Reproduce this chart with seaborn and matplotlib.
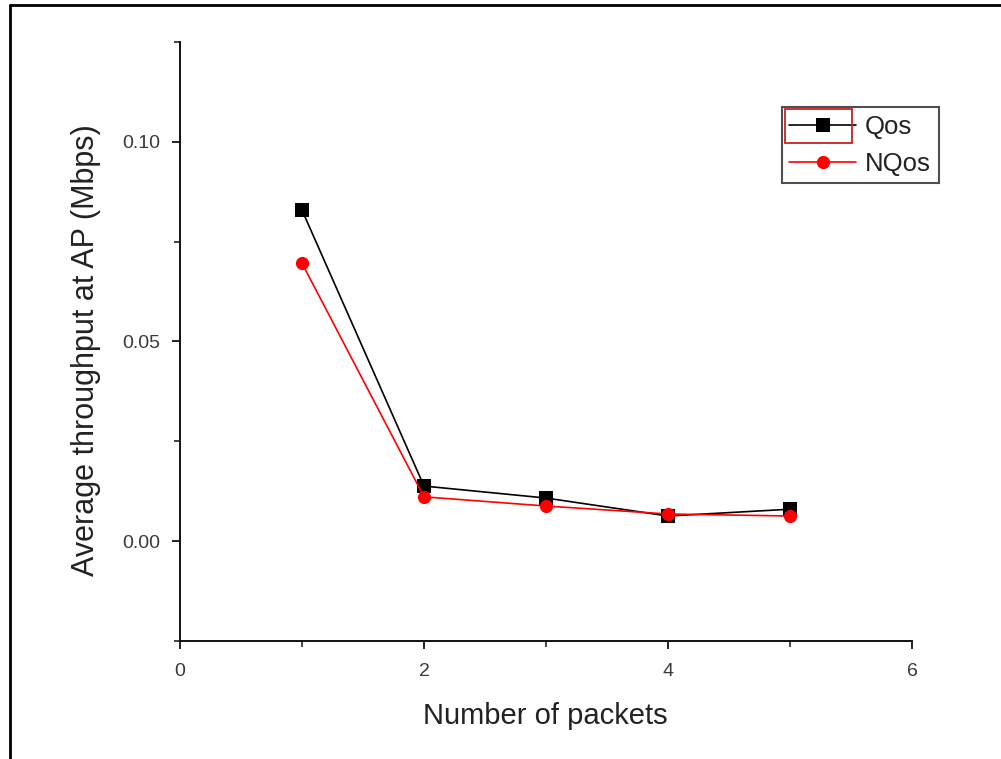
import pandas as pd
import matplotlib
matplotlib.use("Agg")
import matplotlib.pyplot as plt
from matplotlib.ticker import MultipleLocator
from matplotlib.lines import Line2D
from matplotlib.patches import Rectangle
import seaborn as sns

# values
packets = [1, 2, 3, 4, 5]
qos = [0.0829, 0.0138, 0.0108, 0.0063, 0.0080]
nqos = [0.0696, 0.0111, 0.0088, 0.0068, 0.0063]
series_names = ["Qos", "NQos"]

df = pd.concat([
    pd.DataFrame({"packets": packets, "value": qos, "series": "Qos"}),
    pd.DataFrame({"packets": packets, "value": nqos, "series": "NQos"}),
])

sns.set_theme(style="ticks")
plt.rcParams['font.family'] = ['Liberation Sans', 'DejaVu Sans']

W, H = 1001, 759
fig = plt.figure(figsize=(W / 100, H / 100), dpi=100)
ax = fig.add_axes([180 / W, 118 / H, 732 / W, 599 / H])

sns.lineplot(data=df, x="packets", y="value", hue="series", style="series",
             hue_order=series_names, style_order=series_names,
             palette={"Qos": "black", "NQos": "red"},
             markers={"Qos": "s", "NQos": "o"}, dashes=False,
             markersize=9.5, markeredgewidth=0, linewidth=1.2, ax=ax)

ax.set_xlim(0, 6)
ax.set_ylim(-0.025, 0.125)
ax.xaxis.set_major_locator(MultipleLocator(2))
ax.xaxis.set_minor_locator(MultipleLocator(1))
ax.yaxis.set_minor_locator(MultipleLocator(0.025))
ax.set_yticks([0.0, 0.05, 0.10])
ax.set_yticklabels(["0.00", "0.05", "0.10"])

for side in ["top", "right"]:
    ax.spines[side].set_visible(False)
for side in ["left", "bottom"]:
    ax.spines[side].set_linewidth(1.4)
    ax.spines[side].set_color("#111111")

ax.tick_params(which="major", direction="out", length=6, width=1.3, color="#111111",
               labelsize=14, labelcolor="#3a3a3a")
ax.tick_params(which="minor", direction="out", length=4, width=1.1, color="#111111")
ax.tick_params(axis="x", pad=10)
ax.tick_params(axis="y", pad=8)

ax.set_xlabel("Number of packets", fontsize=21, color="#222222")
ax.set_ylabel("Average throughput at AP (Mbps)", fontsize=22, color="#222222")
ax.xaxis.set_label_coords(0.4986, -0.102)
ax.yaxis.set_label_coords(-0.108, 0.486)

leg = ax.legend(loc="upper left", bbox_to_anchor=(0.822, 0.8915), fontsize=18.5,
                frameon=True, fancybox=False, edgecolor="#222222",
                handlelength=2.6, handletextpad=0.35, borderpad=0.3,
                labelspacing=0.5, borderaxespad=0)
leg.get_frame().set_linewidth(1.5)
for t in leg.get_texts():
    t.set_color("#222222")

# selection box around the first legend sample, as in the original
fig.add_artist(Rectangle((785 / W, 1 - 143 / H), 67 / W, 34 / H, transform=fig.transFigure,
                         fill=False, edgecolor="#cc2020", linewidth=1.3))

# outer frame, left and top edges only
fig.add_artist(Line2D([10 / W, 10 / W], [0, 1 - 5 / H],
                      transform=fig.transFigure, color="black", linewidth=2))
fig.add_artist(Line2D([10 / W, 1], [1 - 5 / H, 1 - 5 / H],
                      transform=fig.transFigure, color="black", linewidth=2))

fig.savefig("out.png", dpi=100)
